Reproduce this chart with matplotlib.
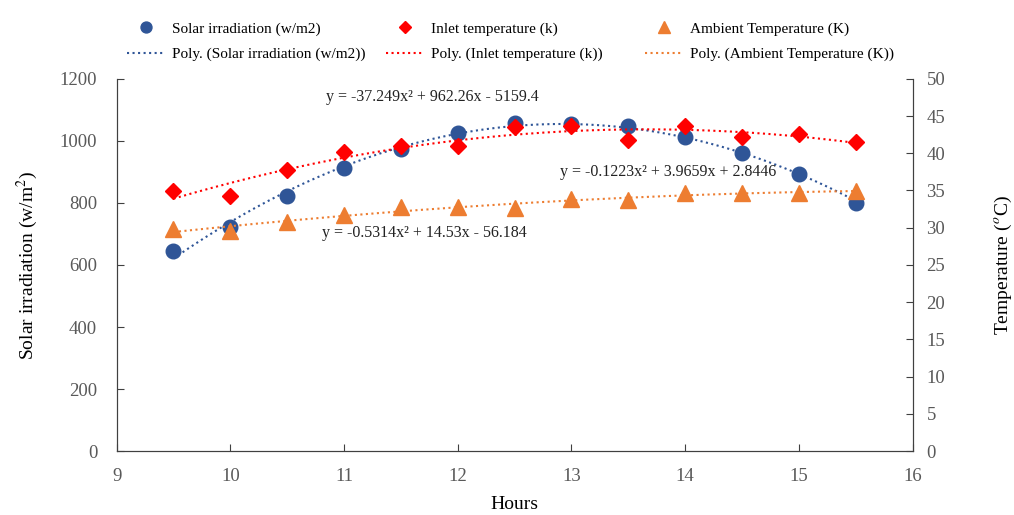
import matplotlib.pyplot as plt
import numpy as np

plt.rcParams['font.family'] = ['Liberation Serif', 'DejaVu Serif']
plt.rcParams['mathtext.fontset'] = 'stix'

hours = [9.5, 10, 10.5, 11, 11.5, 12, 12.5, 13, 13.5, 14, 14.5, 15, 15.5]
solar = [645, 723, 822, 914, 974, 1025, 1058, 1055, 1048, 1014, 962, 894, 799]
inlet = [34.9, 34.3, 37.7, 40.2, 41.0, 41.0, 43.5, 43.6, 41.8, 43.6, 42.2, 42.6, 41.5]
ambient = [29.8, 29.6, 30.8, 31.7, 32.8, 32.8, 32.7, 33.8, 33.7, 34.7, 34.7, 34.7, 34.9]

eq_solar = 'y = -37.249x² + 962.26x - 5159.4'
eq_inlet = 'y = -0.5314x² + 14.53x - 56.184'
eq_amb = 'y = -0.1223x² + 3.9659x + 2.8446'

c_solar = '#2F5597'
c_inlet = '#FF0000'
c_amb = '#ED7D31'
grey = '#595959'

fig = plt.figure(figsize=(10.14, 5.15), dpi=100)
ax1 = fig.add_axes([0.115, 0.124, 0.785, 0.723])
ax2 = ax1.twinx()

xs = np.linspace(hours[0], hours[-1], 200)

def trend(x, y):
    # 2nd order polynomial trendline, like Excel's "Poly."
    p = np.polyfit(x, y, 2)
    return np.polyval(p, xs)

h1, = ax1.plot(hours, solar, 'o', ms=10.5, color=c_solar, zorder=5,
               label='Solar irradiation (w/m2)')
l1, = ax1.plot(xs, trend(hours, solar), ':', color=c_solar, lw=1.5,
               label='Poly. (Solar irradiation (w/m2))')
h2, = ax2.plot(hours, inlet, 'D', ms=8.5, color=c_inlet, zorder=5,
               label='Inlet temperature (k)')
l2, = ax2.plot(xs, trend(hours, inlet), ':', color=c_inlet, lw=1.5,
               label='Poly. (Inlet temperature (k))')
h3, = ax2.plot(hours, ambient, '^', ms=11, color=c_amb, zorder=5,
               label='Ambient Temperature (K)')
l3, = ax2.plot(xs, trend(hours, ambient), ':', color=c_amb, lw=1.5,
               label='Poly. (Ambient Temperature (K))')

ax1.set_xlim(9, 16)
ax1.set_ylim(0, 1200)
ax2.set_ylim(0, 50)
ax1.set_xticks(range(9, 17))
ax1.set_yticks(range(0, 1201, 200))
ax2.set_yticks(range(0, 51, 5))

for ax in (ax1, ax2):
    ax.spines['top'].set_visible(False)
    for s in ('left', 'right', 'bottom'):
        ax.spines[s].set_color('#404040')
    ax.tick_params(direction='in', length=5, labelsize=13.5, labelcolor=grey,
                   color='#404040')
ax1.tick_params(axis='y', pad=14)
ax1.tick_params(axis='x', pad=12)
ax2.tick_params(axis='y', pad=10)

ax1.set_xlabel('Hours', fontsize=14, labelpad=8)
ax1.set_ylabel('Solar irradiation (w/m$^2$)', fontsize=14, labelpad=14)
ax2.set_ylabel('Temperature ($^o$C)', fontsize=14, labelpad=34)

# trendline equations (on top axes so markers don't cover them)
for tx, ty, s in [(11.78, 1140, eq_solar), (13.85, 900, eq_amb), (11.71, 703, eq_inlet)]:
    ax2.text(tx, ty / 24, s, fontsize=11.5, ha='center', va='center',
             color='#222222', zorder=10)

# one legend per column, placed like the reference
cols = [(h1, l1, 127), (h2, l2, 386), (h3, l3, 645)]
for h, l, px in cols:
    fig.legend([h, l], [h.get_label(), l.get_label()], loc='upper left',
               bbox_to_anchor=(px / 1014, 0.957), frameon=False, fontsize=11,
               borderpad=0, borderaxespad=0, handlelength=2.5,
               handletextpad=0.45, labelspacing=0.75, markerscale=0.75)

fig.savefig('out.png', dpi=100)
